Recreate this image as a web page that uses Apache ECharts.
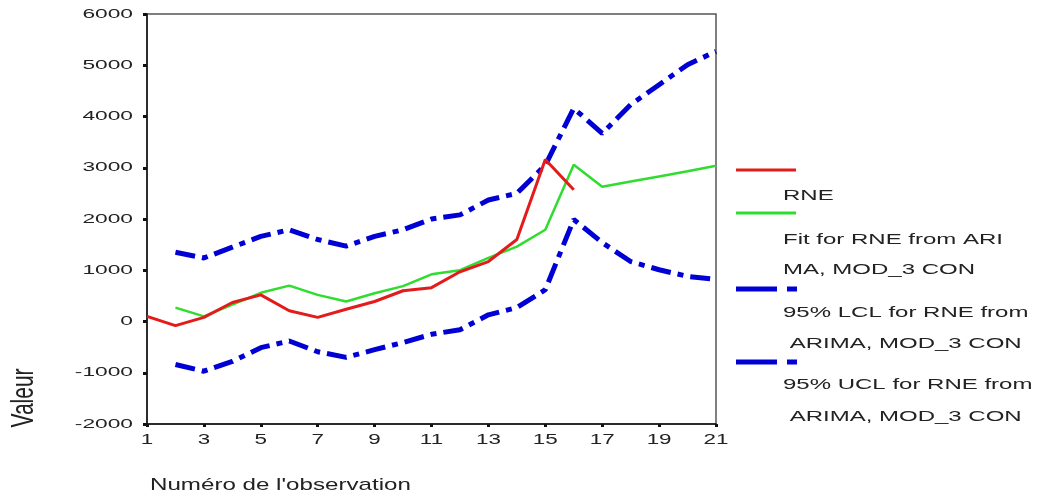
<!DOCTYPE html>
<html>
<head>
<meta charset="utf-8">
<script src="https://cdn.jsdelivr.net/npm/echarts@6/dist/echarts.min.js"></script>
<style>
  html, body { margin: 0; padding: 0; background: #fff; }
  #chart { width: 1044px; height: 499px; }
</style>
</head>
<body>
<div id="chart"></div>
<script>
// Observation numbers 1..21
const observations = ['1','2','3','4','5','6','7','8','9','10','11','12','13','14','15','16','17','18','19','20','21'];

// Observed series RNE
const rne = [100, -80, 80, 370, 520, 210, 80, 240, 390, 600, 660, 970, 1170, 1600, 3160, 2570, null, null, null, null, null];

// ARIMA fitted values
const fitRne = [null, 270, 100, 330, 560, 700, 520, 390, 550, 690, 920, 1000, 1240, 1460, 1790, 3060, 2630, 2730, 2830, 2930, 3040];

// 95% lower confidence limit
const lclRne = [null, -840, -970, -780, -510, -380, -590, -700, -550, -410, -250, -160, 130, 270, 620, 1990, 1540, 1170, 1010, 880, 820];

// 95% upper confidence limit
const uclRne = [null, 1350, 1240, 1450, 1660, 1790, 1600, 1470, 1660, 1790, 2000, 2080, 2370, 2500, 3050, 4160, 3670, 4230, 4620, 5010, 5270];

// Tick labels
const yTickLabels = [-2000, -1000, 0, 1000, 2000, 3000, 4000, 5000, 6000];
const xTickLabels = ['1', '3', '5', '7', '9', '11', '13', '15', '17', '19', '21'];

const legendLines = [
  'RNE',
  'Fit for RNE from ARI',
  'MA, MOD_3 CON',
  '95% LCL for RNE from',
  ' ARIMA, MOD_3 CON',
  '95% UCL for RNE from',
  ' ARIMA, MOD_3 CON'
];

const chart = echarts.init(document.getElementById('chart'));
const font = 'Liberation Sans, Arial, sans-serif';
const inkColor = '#222';
const dashDot = [20, 7, 6, 7];
const RED = '#e31b1b', GREEN = '#2fdc2f', BLUE = '#0000d4';

// Wide-set text (the typeface here is drawn stretched horizontally)
function wideText(x, y, s, size, sx, align, vAlign) {
  return {
    type: 'text', x: x, y: y, scaleX: sx, silent: true,
    style: {
      text: s, fill: inkColor, font: size + 'px ' + font,
      textAlign: align || 'left', align: align || 'left',
      textVerticalAlign: vAlign || 'middle', verticalAlign: vAlign || 'middle'
    }
  };
}
function lineEl(x1, x2, y, color, w) {
  return { type: 'line', silent: true, shape: { x1: x1, y1: y, x2: x2, y2: y },
    style: { stroke: color, lineWidth: w } };
}

chart.setOption({
  animation: false,
  backgroundColor: '#fff',
  grid: { left: 147, right: 328, top: 14, bottom: 75, show: true, borderColor: '#555', borderWidth: 1.5 },
  xAxis: {
    type: 'category',
    data: observations,
    boundaryGap: false,
    axisLine: { onZero: false, lineStyle: { color: '#111', width: 1.5 } },
    axisTick: { interval: 1, length: 3, lineStyle: { color: '#111', width: 3 } },
    axisLabel: { show: false }
  },
  yAxis: {
    type: 'value',
    min: yTickLabels[0], max: yTickLabels[yTickLabels.length - 1], interval: 1000,
    splitLine: { show: false },
    axisLine: { show: true, lineStyle: { color: '#111', width: 1.5 } },
    axisTick: { show: true, length: 4, lineStyle: { color: '#111', width: 3 } },
    axisLabel: { show: false }
  },
  series: [
    { name: 'UCL', type: 'line', data: uclRne, symbol: 'none',
      lineStyle: { color: BLUE, width: 5, type: dashDot } },
    { name: 'LCL', type: 'line', data: lclRne, symbol: 'none',
      lineStyle: { color: BLUE, width: 5, type: dashDot } },
    { name: 'Fit', type: 'line', data: fitRne, symbol: 'none',
      lineStyle: { color: GREEN, width: 2.5 } },
    { name: 'RNE', type: 'line', data: rne, symbol: 'none',
      lineStyle: { color: RED, width: 3 } }
  ]
});

// Tick labels placed through the axes' own scales
const gridBottom = chart.convertToPixel({ yAxisIndex: 0 }, yTickLabels[0]);
const gridLeft = chart.convertToPixel({ xAxisIndex: 0 }, observations[0]);
const graphics = [];
yTickLabels.forEach(function (v) {
  graphics.push(wideText(gridLeft - 14, chart.convertToPixel({ yAxisIndex: 0 }, v), String(v), 13, 1.75, 'right', 'middle'));
});
xTickLabels.forEach(function (c) {
  graphics.push(wideText(chart.convertToPixel({ xAxisIndex: 0 }, c), gridBottom + 9, c, 14, 1.6, 'center', 'top'));
});

// Axis titles
graphics.push({
  type: 'text', x: 24, y: 398, rotation: Math.PI / 2, scaleY: 1.5, silent: true,
  style: { text: 'Valeur', fill: inkColor, font: '21px ' + font,
    textAlign: 'center', align: 'center', textVerticalAlign: 'middle', verticalAlign: 'middle' }
});
graphics.push(wideText(150, 485, 'Numéro de l\'observation', 17, 1.42, 'left', 'middle'));

// Legend
graphics.push(lineEl(736, 796, 170, RED, 3));
graphics.push(wideText(783, 196, legendLines[0], 15, 1.6));
graphics.push(lineEl(736, 796, 213, GREEN, 3));
graphics.push(wideText(783, 240, legendLines[1], 15, 1.6));
graphics.push(wideText(783, 270, legendLines[2], 15, 1.6));
graphics.push(lineEl(736, 777, 289, BLUE, 5));
graphics.push(lineEl(787, 797, 289, BLUE, 5));
graphics.push(wideText(783, 313, legendLines[3], 15, 1.6));
graphics.push(wideText(783, 344, legendLines[4], 15, 1.6));
graphics.push(lineEl(736, 777, 362, BLUE, 5));
graphics.push(lineEl(787, 797, 362, BLUE, 5));
graphics.push(wideText(783, 385, legendLines[5], 15, 1.6));
graphics.push(wideText(783, 417, legendLines[6], 15, 1.6));

chart.setOption({ graphic: graphics });
</script>
</body>
</html>
